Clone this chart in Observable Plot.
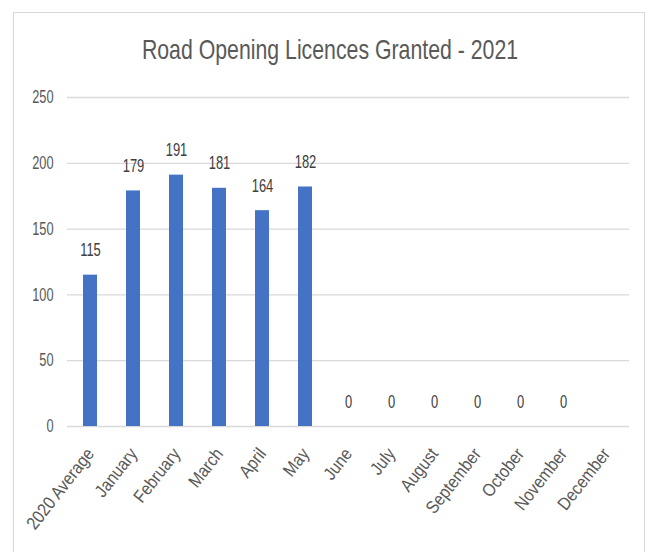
<!DOCTYPE html>
<html>
<head>
<meta charset="utf-8">
<script src="https://cdn.jsdelivr.net/npm/d3@7"></script>
<script src="https://cdn.jsdelivr.net/npm/@observablehq/plot@0.6"></script>
<style>
  html, body { margin: 0; padding: 0; background: #fff; }
  body { width: 654px; height: 552px; overflow: hidden; position: relative;
         font-family: "Liberation Sans", Arial, sans-serif; }
  #frame { position: absolute; left: 13px; top: 12px; width: 632px; height: 560px;
           border: 1.5px solid #d9d9d9; border-bottom: none; box-sizing: border-box; }
  #title { position: absolute; left: 0; top: 36px; width: 660px; text-align: center;
           font-size: 28px; line-height: 28px; color: #595959; white-space: nowrap;
           transform: scaleX(0.76); transform-origin: 330px 0; }
  #chart { position: absolute; left: 0; top: 80px; }
</style>
</head>
<body>
<div id="frame"></div>
<div id="title">Road Opening Licences Granted - 2021</div>
<div id="chart"></div>
<script>
const categories = ["2020 Average", "January", "February", "March", "April", "May", "June",
  "July", "August", "September", "October", "November", "December"];
const values = [115, 179, 191, 181, 164, 182, 0, 0, 0, 0, 0, 0, null];
const yTicks = [0, 50, 100, 150, 200, 250];

const data = categories.map((c, i) => ({category: c, value: values[i]}));
const withValue = data.filter(d => d.value !== null);

const chart = Plot.plot({
  width: 654,
  height: 472,
  marginTop: 17,
  marginBottom: 126,
  marginLeft: 67,
  marginRight: 25,
  style: {fontFamily: '"Liberation Sans", Arial, sans-serif', background: "transparent"},
  x: {domain: categories, paddingInner: 0.68, paddingOuter: 0.34, label: null},
  y: {domain: [0, 250], ticks: yTicks, label: null},
  marks: [
    Plot.gridY(yTicks, {stroke: "#d9d9d9", strokeOpacity: 1, strokeWidth: 1.3}),
    Plot.barY(withValue, {x: "category", y: "value", fill: "#4472c4"}),
    Plot.text(withValue, {x: "category", y: "value", text: d => String(d.value), dy: -25,
      fontSize: 19, fill: "#404040"}),
    Plot.axisY({ticks: yTicks, tickSize: 0, tickPadding: 14, fontSize: 18, color: "#595959", label: null}),
    Plot.axisX({tickSize: 0, tickPadding: 24, tickRotate: -52, fontSize: 18, color: "#595959", label: null})
  ]
});
document.getElementById("chart").appendChild(chart);

// Condense text horizontally to imitate the narrow, tall lettering of the reference.
function squeeze(selector, factor) {
  chart.querySelectorAll(selector).forEach(t => {
    const len = t.getComputedTextLength();
    if (len > 0) {
      t.setAttribute("textLength", (len * factor).toFixed(2));
      t.setAttribute("lengthAdjust", "spacingAndGlyphs");
    }
  });
}
squeeze('g[aria-label="y-axis tick label"] text', 0.71);
squeeze('g[aria-label="x-axis tick label"] text', 0.88);
squeeze('g[aria-label="text"] text', 0.68);
</script>
</body>
</html>
